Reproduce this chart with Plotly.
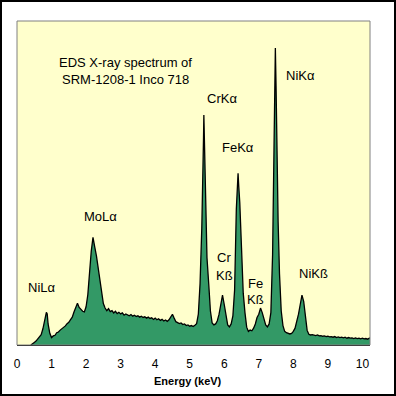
import plotly.graph_objects as go

# Energy (keV) and counts (% of full scale)
energy_kev = [
    0.40, 0.45, 0.50, 0.55, 0.60, 0.65, 0.70, 0.75, 0.80, 0.85, 0.875, 0.90, 0.95,
    1.00, 1.05, 1.10, 1.15, 1.20, 1.25, 1.30, 1.35, 1.40, 1.45, 1.50, 1.55, 1.60,
    1.65, 1.70, 1.75, 1.80, 1.85, 1.90, 1.95, 2.00, 2.05, 2.10, 2.15, 2.20, 2.22,
    2.25, 2.30, 2.35, 2.40, 2.45, 2.50, 2.55, 2.60, 2.65, 2.70, 2.75, 2.80, 2.85,
    2.90, 2.95, 3.00, 3.05, 3.10, 3.15, 3.20, 3.25, 3.30, 3.35, 3.40, 3.45, 3.50,
    3.55, 3.60, 3.65, 3.70, 3.75, 3.80, 3.85, 3.90, 3.95, 4.00, 4.05, 4.10, 4.15,
    4.20, 4.25, 4.30, 4.35, 4.40, 4.45, 4.50, 4.55, 4.60, 4.65, 4.70, 4.75, 4.80,
    4.85, 4.90, 4.95, 5.00, 5.05, 5.10, 5.15, 5.20, 5.25, 5.30, 5.35, 5.38, 5.40,
    5.41, 5.42, 5.45, 5.50, 5.55, 5.60, 5.65, 5.70, 5.75, 5.80, 5.85, 5.90, 5.95,
    6.00, 6.05, 6.10, 6.15, 6.20, 6.25, 6.30, 6.35, 6.38, 6.40, 6.42, 6.45, 6.50,
    6.55, 6.60, 6.65, 6.70, 6.75, 6.80, 6.85, 6.90, 6.95, 7.00, 7.05, 7.10, 7.15,
    7.20, 7.25, 7.30, 7.35, 7.40, 7.44, 7.46, 7.48, 7.50, 7.53, 7.56, 7.60, 7.65,
    7.70, 7.75, 7.80, 7.85, 7.90, 7.95, 8.00, 8.05, 8.10, 8.15, 8.20, 8.25, 8.30,
    8.35, 8.40, 8.45, 8.50, 8.55, 8.60, 8.65, 8.70, 8.75, 8.80, 8.85, 8.90, 8.95,
    9.00, 9.05, 9.10, 9.15, 9.20, 9.25, 9.30, 9.35, 9.40, 9.45, 9.50, 9.55, 9.60,
    9.65, 9.70, 9.75, 9.80, 9.85, 9.90, 9.95, 10.00, 10.05, 10.10, 10.15, 10.22,
]
counts = [
    0.0, 0.3, 0.8, 1.2, 1.8, 2.4, 3.2, 5.0, 8.2, 10.1, 9.6, 6.5, 3.6,
    2.3, 2.8, 3.0, 3.8, 4.0, 4.6, 5.0, 5.4, 5.9, 6.6, 7.0, 7.8, 8.6,
    10.2, 11.8, 12.9, 11.6, 11.0, 10.4, 10.2, 11.8, 15.5, 22.5, 29.0, 33.2, 32.4,
    30.3, 27.5, 23.6, 19.2, 15.0, 12.8, 11.4, 10.6, 11.2, 10.3, 10.6, 9.9, 10.4,
    9.7, 10.1, 9.6, 9.9, 9.2, 9.6, 9.3, 9.0, 9.4, 8.9, 9.2, 8.8, 9.0,
    8.6, 8.9, 8.5, 8.7, 8.3, 8.6, 8.2, 8.4, 7.9, 8.3, 7.8, 8.1, 7.6,
    7.9, 7.4, 7.7, 7.3, 7.8, 8.6, 9.5, 8.3, 7.2, 6.9, 6.6, 6.8, 6.3,
    6.5, 6.0, 6.2, 5.8, 6.0, 5.7, 6.1, 6.6, 9.5, 19.0, 36.0, 48.0, 64.0,
    71.0, 66.0, 48.0, 27.0, 19.0, 10.5, 6.8, 6.2, 6.5, 7.5, 9.5, 13.0, 15.4,
    12.5, 8.5, 6.2, 5.6, 6.5, 9.0, 17.0, 42.0, 49.0, 53.0, 49.0, 44.0, 30.0,
    16.0, 10.0, 5.5, 4.2, 4.6, 4.4, 5.2, 6.5, 8.5, 9.5, 11.4, 10.0, 8.0,
    6.2, 5.6, 6.5, 10.0, 28.0, 60.0, 82.0, 91.7, 80.0, 55.0, 38.0, 22.0, 10.5,
    6.0, 4.2, 3.8, 3.5, 3.4, 3.6, 4.2, 5.2, 7.0, 9.5, 12.5, 15.4, 13.5,
    8.5, 4.5, 3.3, 3.1, 3.2, 3.0, 2.9, 3.1, 2.8, 2.9, 2.7, 2.8, 2.6,
    2.7, 2.5, 2.6, 2.4, 2.6, 2.3, 2.5, 2.3, 2.4, 2.2, 2.4, 2.1, 2.3,
    2.1, 2.2, 2.0, 2.2, 2.0, 2.1, 1.9, 2.1, 1.9, 2.0, 1.8, 2.2,
]

x_ticks = [0, 1, 2, 3, 4, 5, 6, 7, 8, 9, 10]
x_tick_labels = ["0", "1", "2", "3", "4", "5", "6", "7", "8", "9", "10"]

peak_labels = ["NiLα", "MoLα", "CrKα", "Cr", "Kß", "FeKα", "Fe", "Kß", "NiKα", "NiKß"]
peak_label_x = [0.72, 2.43, 5.94, 6.00, 6.00, 6.40, 6.90, 6.90, 8.22, 8.58]
peak_label_y = [17.6, 39.8, 76.2, 26.9, 21.6, 61.1, 19.1, 13.9, 83.3, 22.2]

title_lines = ["EDS X-ray spectrum of", "SRM-1208-1 Inco 718"]
title_x = [3.14, 3.14]
title_y = [87.3, 81.8]

FONT = "Liberation Sans, Arial, sans-serif"

fig = go.Figure()
fig.add_trace(go.Scatter(
    x=energy_kev, y=counts, mode="lines", fill="tozeroy",
    fillcolor="#339966", line=dict(color="black", width=1.3),
    hoverinfo="skip", showlegend=False,
))

annotations = []
for t, x, y in zip(peak_labels + title_lines, peak_label_x + title_x, peak_label_y + title_y):
    annotations.append(dict(x=x, y=y, xref="x", yref="y", text=t, showarrow=False,
                            font=dict(family=FONT, size=13, color="black"),
                            xanchor="center", yanchor="middle"))
annotations.append(dict(x=4.96, y=-0.111, xref="x", yref="paper", text="<b>Energy (keV)</b>",
                        showarrow=False, font=dict(family=FONT, size=11, color="black"),
                        xanchor="center", yanchor="middle"))

L, R, T, B = 17, 26, 21, 51
PW, PH = 396 - L - R, 396 - T - B
shapes = [
    # grey plot frame
    dict(type="rect", xref="paper", yref="paper", x0=0, x1=1, y0=0, y1=1,
         line=dict(color="#808080", width=1), layer="above"),
    # black outer frame around the whole image
    dict(type="rect", xref="paper", yref="paper",
         x0=(1 - L) / PW, x1=(395 - L) / PW,
         y0=-(395 - (396 - B)) / PH, y1=(396 - B - 1) / PH,
         line=dict(color="black", width=2)),
]

fig.update_layout(
    width=396, height=396,
    margin=dict(l=L, r=R, t=T, b=B, pad=0),
    paper_bgcolor="white", plot_bgcolor="#FFFFCC",
    annotations=annotations, shapes=shapes,
    xaxis=dict(range=[0, 10.22], tickvals=x_ticks, ticktext=x_tick_labels,
               showgrid=False, zeroline=False, showline=True, linecolor="black",
               linewidth=1, ticks="", ticklabelstandoff=8,
               tickfont=dict(family=FONT, size=12, color="black")),
    yaxis=dict(range=[0, 100], showgrid=False, zeroline=False, showticklabels=False,
               ticks="", showline=False),
)

fig.write_html("out.html", config={"displayModeBar": False},
               post_script="document.body.style.margin='0';document.body.style.overflow='hidden';")
